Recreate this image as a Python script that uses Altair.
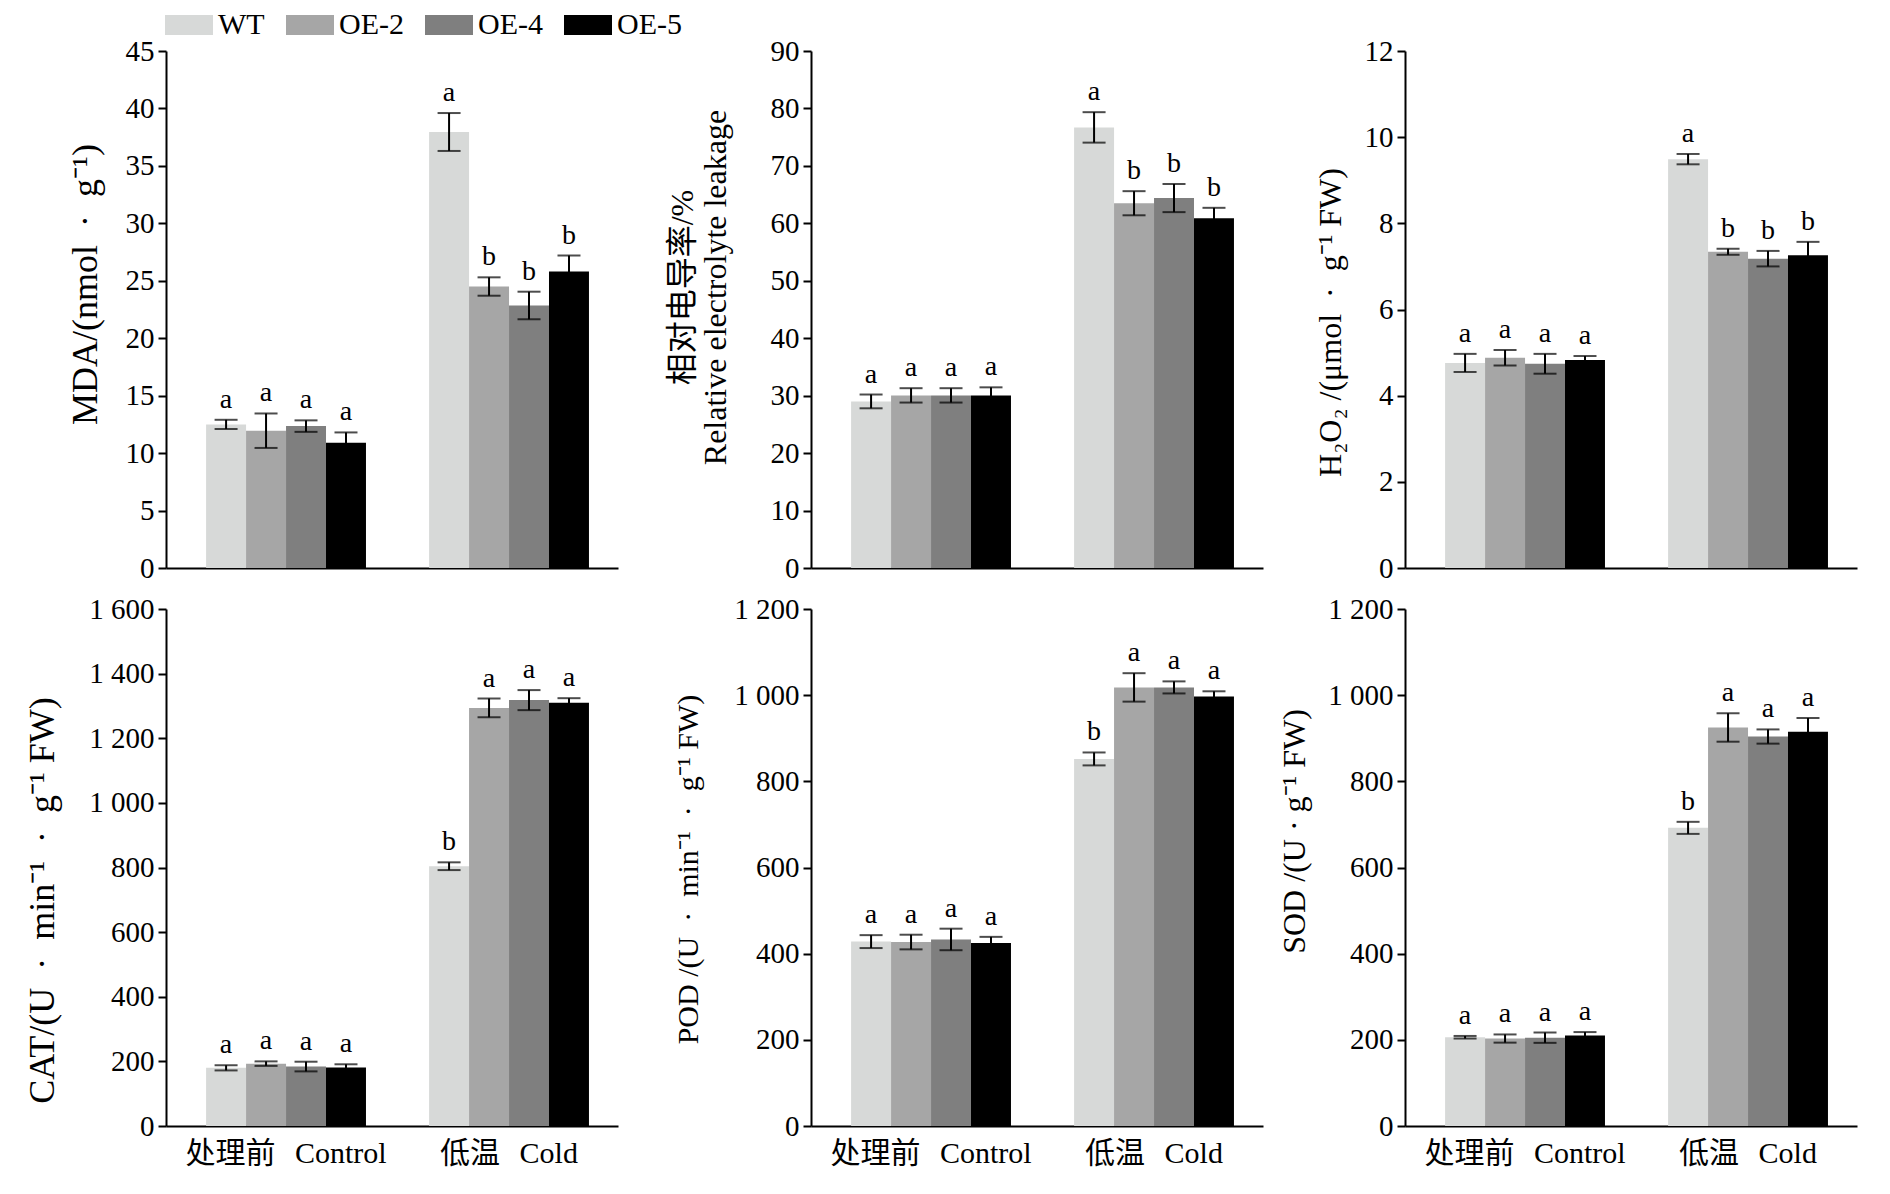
import altair as alt
import pandas as pd

genotypes = ["WT", "OE-2", "OE-4", "OE-5"]
treatments = ["处理前 \u2009\u2009Control", "低温 \u2009\u2009Cold"]
bar_colors = ["#d7d9d8", "#a6a6a6", "#7f7f7f", "#000000"]

# order: control WT, OE-2, OE-4, OE-5, then cold WT, OE-2, OE-4, OE-5
mda_mean = [12.5, 11.95, 12.35, 10.9, 37.95, 24.5, 22.85, 25.8]
mda_err = [0.4, 1.5, 0.5, 0.9, 1.65, 0.8, 1.2, 1.4]
mda_sig = ["a", "a", "a", "a", "a", "b", "b", "b"]

el_mean = [29.0, 30.05, 30.05, 30.05, 76.7, 63.5, 64.4, 60.9]
el_err = [1.2, 1.25, 1.25, 1.4, 2.65, 2.1, 2.45, 1.8]
el_sig = ["a", "a", "a", "a", "a", "b", "b", "b"]

h2o2_mean = [4.76, 4.88, 4.74, 4.83, 9.49, 7.34, 7.18, 7.26]
h2o2_err = [0.21, 0.18, 0.23, 0.09, 0.12, 0.07, 0.18, 0.31]
h2o2_sig = ["a", "a", "a", "a", "a", "b", "b", "b"]

cat_mean = [180, 193, 184, 181, 804, 1294, 1318, 1310]
cat_err = [8, 7, 15, 10, 12, 29, 31, 14]
cat_sig = ["a", "a", "a", "a", "b", "a", "a", "a"]

pod_mean = [428, 427, 433, 425, 852, 1018, 1018, 997]
pod_err = [15, 17, 25, 14, 15, 33, 14, 12]
pod_sig = ["a", "a", "a", "a", "b", "a", "a", "a"]

sod_mean = [206, 203, 205, 210, 692, 925, 904, 915]
sod_err = [3, 9.5, 12, 8, 14, 33, 16.5, 32]
sod_sig = ["a", "a", "a", "a", "b", "a", "a", "a"]

SERIF = "Liberation Serif, Noto Sans CJK SC"
W, H = 452, 517
DOT = "\u2002·\u2002"


def panel(mean, err, sig, ytitle, ymax, step, show_x, title_pad, title_y,
          title_size=36):
    df = pd.DataFrame({
        "treatment": [t for t in treatments for _ in genotypes],
        "genotype": genotypes * 2,
        "mean": mean,
        "err": err,
        "sig": sig,
    })
    df["lo"] = df["mean"] - df["err"]
    df["hi"] = df["mean"] + df["err"]

    x_axis = alt.Axis(title=None, labels=show_x, ticks=False, labelAngle=0,
                      labelFontSize=30, labelPadding=12, labelLimit=0,
                      domainWidth=2, domainColor="black")
    y_scale = alt.Scale(domain=[0, ymax], nice=False, zero=True)
    y_axis = alt.Axis(title=ytitle, values=list(range(0, ymax + 1, step)),
                      labelExpr="replace(format(datum.value, ','), ',', ' ')",
                      titlePadding=title_pad, titleFontSize=title_size,
                      titleY=title_y, minExtent=0, maxExtent=0)

    base = alt.Chart(df).encode(
        x=alt.X("treatment:N", sort=treatments, axis=x_axis,
                scale=alt.Scale(paddingInner=0.283, paddingOuter=0.155, align=0.58)),
        xOffset=alt.XOffset("genotype:N", sort=genotypes,
                            scale=alt.Scale(paddingInner=0, paddingOuter=0)),
    )
    bars = base.mark_bar().encode(
        y=alt.Y("mean:Q", scale=y_scale, axis=y_axis),
        color=alt.Color("genotype:N", sort=genotypes,
                        scale=alt.Scale(domain=genotypes, range=bar_colors),
                        legend=alt.Legend(title=None)),
    )
    stems = base.mark_rule(color="black", strokeWidth=2).encode(
        y=alt.Y("lo:Q", scale=y_scale, axis=y_axis), y2="hi:Q")
    cap_hi = base.mark_tick(color="black", size=23, thickness=2).encode(
        y=alt.Y("hi:Q", scale=y_scale, axis=y_axis))
    cap_lo = base.mark_tick(color="black", size=23, thickness=2).encode(
        y=alt.Y("lo:Q", scale=y_scale, axis=y_axis))
    letters = base.mark_text(baseline="alphabetic", dy=-12, fontSize=28,
                             font=SERIF, color="black").encode(
        y=alt.Y("hi:Q", scale=y_scale, axis=y_axis), text="sig:N")
    return alt.layer(bars, stems, cap_hi, cap_lo, letters).properties(width=W, height=H)


mda = panel(mda_mean, mda_err, mda_sig, "MDA/(nmol" + DOT + "g⁻¹)",
            45, 5, False, 62, 233)
el = panel(el_mean, el_err, el_sig,
           [" ", "相对电导率/%", "Relative electrolyte leakage"],
           90, 10, False, 79, 236, 32)
h2o2 = panel(h2o2_mean, h2o2_err, h2o2_sig, "H₂O₂ /(μmol" + DOT + "g⁻¹ FW)",
             12, 2, False, 58, 271, 32)
cat = panel(cat_mean, cat_err, cat_sig, "CAT/(U" + DOT + "min⁻¹" + DOT + "g⁻¹ FW)",
            1600, 200, True, 105, 291)
pod = panel(pod_mean, pod_err, pod_sig, "POD /(U" + DOT + "min⁻¹" + DOT + "g⁻¹ FW)",
            1200, 200, True, 108, 260, 30)
sod = panel(sod_mean, sod_err, sod_sig, "SOD /(U · g⁻¹ FW)",
            1200, 200, True, 94, 222, 32)

col1 = alt.vconcat(mda, cat, spacing=41, bounds="flush")
col2 = alt.vconcat(el, pod, spacing=41, bounds="flush")
col3 = alt.vconcat(h2o2, sod, spacing=41, bounds="flush")

chart = alt.hconcat(col1, col2, col3, spacing=15).properties(
    padding={"left": 16, "top": 2, "right": 10, "bottom": 10}
).configure_view(
    strokeWidth=0
).configure_axis(
    labelFont=SERIF, titleFont=SERIF, labelColor="black", titleColor="black",
    labelFontSize=29, titleFontWeight="normal",
    domainColor="black", domainWidth=2, tickColor="black", tickWidth=2,
    tickSize=8, labelPadding=4, grid=False, titleLineHeight=33
).configure_legend(
    orient="none", legendX=8, legendY=-41, direction="horizontal",
    labelFont=SERIF, labelFontSize=30, labelColor="black",
    symbolType="M-2.4,-1H2.4V1H-2.4Z", symbolSize=400, symbolStrokeWidth=0,
    symbolOpacity=1, labelOffset=14, columnPadding=21
)

chart.save("out.html", embed_options={"renderer": "svg", "actions": False})
